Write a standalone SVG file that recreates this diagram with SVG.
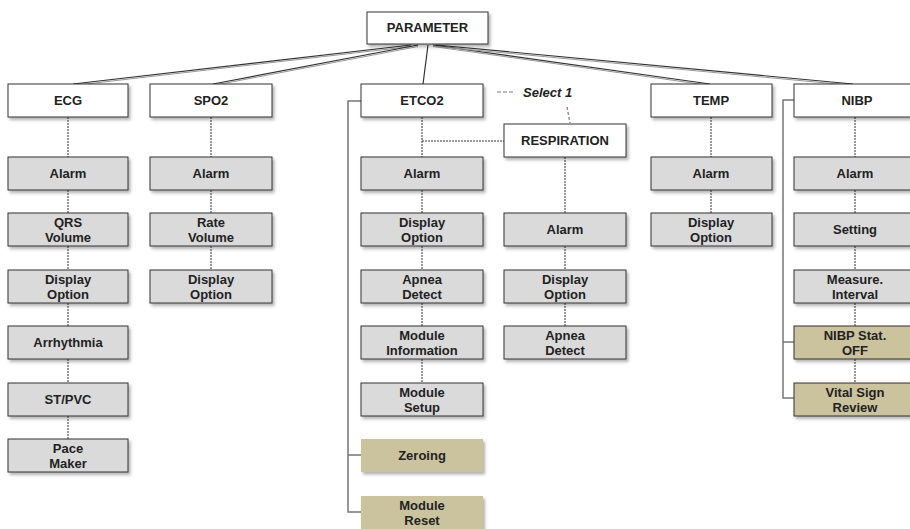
<svg xmlns="http://www.w3.org/2000/svg" width="910" height="529" viewBox="0 0 910 529">
<defs>
<filter id="sh" x="-10%" y="-20%" width="125%" height="160%">
<feDropShadow dx="2" dy="2.5" stdDeviation="1.5" flood-color="#000" flood-opacity="0.3"/>
</filter>
<style>
.top{fill:#fff;stroke:#333;stroke-width:1;filter:url(#sh)}
.g{fill:#dadada;stroke:#333;stroke-width:1;filter:url(#sh)}
.t{fill:#cbc29e;stroke:#333;stroke-width:1;filter:url(#sh)}
.tn{fill:#cbc29e;stroke:none;filter:url(#sh)}
text{font-family:"Liberation Sans",Arial,sans-serif;font-size:13px;font-weight:bold;fill:#222;text-anchor:middle}
.d{stroke:#333;stroke-width:1;stroke-dasharray:2,1;fill:none}
.s{stroke:#333;stroke-width:1.2;fill:none}
.s2{stroke:#999;stroke-width:1;fill:none}
.b{stroke:#777;stroke-width:1.5;fill:none}
</style>
</defs>
<g id="connectors">
<line class="s2" x1="411" y1="46.5" x2="73" y2="85.5"/>
<line class="s" x1="411" y1="45" x2="73" y2="84"/>
<line class="s2" x1="418" y1="46.5" x2="213" y2="85.5"/>
<line class="s" x1="418" y1="45" x2="213" y2="84"/>
<line class="s" x1="428" y1="45" x2="423" y2="84"/>
<line class="s2" x1="433" y1="46.5" x2="710" y2="85.5"/>
<line class="s" x1="433" y1="45" x2="710" y2="84"/>
<line class="s2" x1="436" y1="46.5" x2="853" y2="85.5"/>
<line class="s" x1="436" y1="45" x2="853" y2="84"/>
<path class="d" d="M68 117V157M68 190V213M68 246V270M68 303V326M68 359V383M68 416V439"/>
<path class="d" d="M211 117V157M211 190V213M211 246V270"/>
<path class="d" d="M422 117V157M422 190V213M422 246V270M422 303V326M422 359V383M422 141H504"/>
<path class="d" d="M565 157V213M565 246V270M565 303V326"/>
<path class="d" d="M711 117V157M711 190V213"/>
<path class="d" d="M855 117V157M855 190V213M855 246V270M855 303V326M855 359V383"/>
<path class="b" d="M361 101H348V512H361M348 455H361"/>
<path class="b" d="M794 100H783V398H794M783 342H794"/>
</g>
<g id="legend">
<line x1="497" y1="92" x2="514" y2="92" stroke="#777" stroke-width="1.2" stroke-dasharray="4,2"/>
<text x="523" y="97" style="font-style:italic;text-anchor:start">Select 1</text>
<line x1="567" y1="107" x2="570" y2="123" stroke="#777" stroke-width="1.2" stroke-dasharray="3,2"/>
</g>
<g id="parameter"><rect class="top" x="367" y="12" width="121" height="32"/><text x="427.5" y="32">PARAMETER</text></g>
<g id="ecg"><rect class="top" x="8" y="84" width="120" height="33"/><text x="68" y="105">ECG</text></g>
<g id="spo2"><rect class="top" x="150" y="84" width="122" height="33"/><text x="211" y="105">SPO2</text></g>
<g id="etco2"><rect class="top" x="361" y="84" width="122" height="33"/><text x="422" y="105">ETCO2</text></g>
<g id="temp"><rect class="top" x="651" y="84" width="121" height="33"/><text x="711" y="105">TEMP</text></g>
<g id="nibp"><rect class="top" x="794" y="84" width="122" height="33"/><text x="857" y="105">NIBP</text></g>
<g id="respiration"><rect class="top" x="504" y="124" width="122" height="33"/><text x="565" y="145">RESPIRATION</text></g>

<g id="ecg-alarm"><rect class="g" x="8" y="157" width="120" height="33"/><text x="68" y="178">Alarm</text></g>
<g id="ecg-qrs"><rect class="g" x="8" y="213" width="120" height="33"/><text><tspan x="68" y="227">QRS</tspan><tspan x="68" dy="15">Volume</tspan></text></g>
<g id="ecg-display"><rect class="g" x="8" y="270" width="120" height="33"/><text><tspan x="68" y="284">Display</tspan><tspan x="68" dy="15">Option</tspan></text></g>
<g id="ecg-arrhythmia"><rect class="g" x="8" y="326" width="120" height="33"/><text x="68" y="347">Arrhythmia</text></g>
<g id="ecg-stpvc"><rect class="g" x="8" y="383" width="120" height="33"/><text x="68" y="404">ST/PVC</text></g>
<g id="ecg-pace"><rect class="g" x="8" y="439" width="120" height="33"/><text><tspan x="68" y="453">Pace</tspan><tspan x="68" dy="15">Maker</tspan></text></g>

<g id="spo2-alarm"><rect class="g" x="150" y="157" width="122" height="33"/><text x="211" y="178">Alarm</text></g>
<g id="spo2-rate"><rect class="g" x="150" y="213" width="122" height="33"/><text><tspan x="211" y="227">Rate</tspan><tspan x="211" dy="15">Volume</tspan></text></g>
<g id="spo2-display"><rect class="g" x="150" y="270" width="122" height="33"/><text><tspan x="211" y="284">Display</tspan><tspan x="211" dy="15">Option</tspan></text></g>

<g id="etco2-alarm"><rect class="g" x="361" y="157" width="122" height="33"/><text x="422" y="178">Alarm</text></g>
<g id="etco2-display"><rect class="g" x="361" y="213" width="122" height="33"/><text><tspan x="422" y="227">Display</tspan><tspan x="422" dy="15">Option</tspan></text></g>
<g id="etco2-apnea"><rect class="g" x="361" y="270" width="122" height="33"/><text><tspan x="422" y="284">Apnea</tspan><tspan x="422" dy="15">Detect</tspan></text></g>
<g id="etco2-modinfo"><rect class="g" x="361" y="326" width="122" height="33"/><text><tspan x="422" y="340">Module</tspan><tspan x="422" dy="15">Information</tspan></text></g>
<g id="etco2-modsetup"><rect class="g" x="361" y="383" width="122" height="33"/><text><tspan x="422" y="397">Module</tspan><tspan x="422" dy="15">Setup</tspan></text></g>
<g id="etco2-zeroing"><rect class="tn" x="361" y="439" width="122" height="33"/><text x="422" y="460">Zeroing</text></g>
<g id="etco2-reset"><rect class="tn" x="361" y="496" width="122" height="33"/><text><tspan x="422" y="510">Module</tspan><tspan x="422" dy="15">Reset</tspan></text></g>

<g id="resp-alarm"><rect class="g" x="504" y="213" width="122" height="33"/><text x="565" y="234">Alarm</text></g>
<g id="resp-display"><rect class="g" x="504" y="270" width="122" height="33"/><text><tspan x="565" y="284">Display</tspan><tspan x="565" dy="15">Option</tspan></text></g>
<g id="resp-apnea"><rect class="g" x="504" y="326" width="122" height="33"/><text><tspan x="565" y="340">Apnea</tspan><tspan x="565" dy="15">Detect</tspan></text></g>

<g id="temp-alarm"><rect class="g" x="651" y="157" width="121" height="33"/><text x="711" y="178">Alarm</text></g>
<g id="temp-display"><rect class="g" x="651" y="213" width="121" height="33"/><text><tspan x="711" y="227">Display</tspan><tspan x="711" dy="15">Option</tspan></text></g>

<g id="nibp-alarm"><rect class="g" x="794" y="157" width="122" height="33"/><text x="855" y="178">Alarm</text></g>
<g id="nibp-setting"><rect class="g" x="794" y="213" width="122" height="33"/><text x="855" y="234">Setting</text></g>
<g id="nibp-measure"><rect class="g" x="794" y="270" width="122" height="33"/><text><tspan x="855" y="284">Measure.</tspan><tspan x="855" dy="15">Interval</tspan></text></g>
<g id="nibp-stat"><rect class="t" x="794" y="326" width="122" height="33"/><text><tspan x="855" y="340">NIBP Stat.</tspan><tspan x="855" dy="15">OFF</tspan></text></g>
<g id="nibp-vital"><rect class="t" x="794" y="383" width="122" height="33"/><text><tspan x="855" y="397">Vital Sign</tspan><tspan x="855" dy="15">Review</tspan></text></g>
</svg>
